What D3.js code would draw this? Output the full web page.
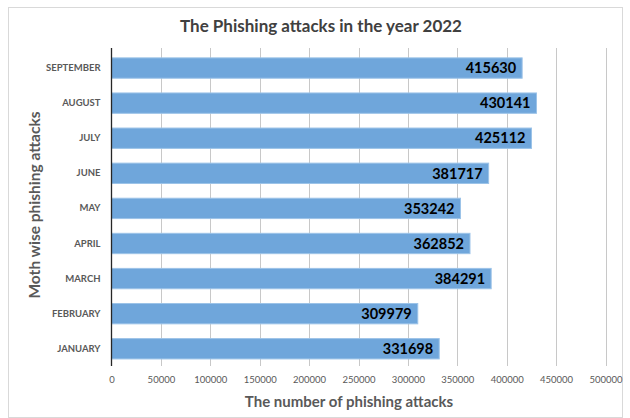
<!DOCTYPE html>
<html>
<head>
<meta charset="utf-8">
<script src="https://cdn.jsdelivr.net/npm/d3@7"></script>
<style>
  body { margin: 0; background: #fff; }
  text { font-family: Lato, "Open Sans", sans-serif; }
</style>
</head>
<body>
<div id="chart"></div>
<script>
// data
const months = ["JANUARY", "FEBRUARY", "MARCH", "APRIL", "MAY", "JUNE", "JULY", "AUGUST", "SEPTEMBER"];
const attacks = [331698, 309979, 384291, 362852, 353242, 381717, 425112, 430141, 415630];
const xTicks = [0, 50000, 100000, 150000, 200000, 250000, 300000, 350000, 400000, 450000, 500000];

const width = 630, height = 418;
const plot = { left: 111.5, right: 605.5, top: 48, bottom: 366 };

const svg = d3.select("#chart").append("svg")
  .attr("width", width)
  .attr("height", height);

// chart border
svg.append("rect")
  .attr("x", 8.5).attr("y", 7.5)
  .attr("width", 614).attr("height", 410)
  .attr("fill", "#fff")
  .attr("stroke", "#d9d9d9");

const x = d3.scaleLinear()
  .domain([0, 500000])
  .range([plot.left, plot.right]);

const y = d3.scaleBand()
  .domain(months.slice().reverse())
  .range([50.5, 366.3])
  .paddingInner(0.42)
  .paddingOuter(0.21);

// gridlines
svg.append("g")
  .attr("class", "grid")
  .selectAll("line")
  .data(xTicks.slice(1))
  .join("line")
  .attr("x1", (d) => Math.round(x(d)) + 0.5)
  .attr("x2", (d) => Math.round(x(d)) + 0.5)
  .attr("y1", plot.top)
  .attr("y2", plot.bottom)
  .attr("stroke", "#c8c8c8")
  .attr("stroke-width", 1);

// bars
svg.append("g")
  .selectAll("rect")
  .data(months)
  .join("rect")
  .attr("x", x(0))
  .attr("y", (d) => y(d))
  .attr("width", (d, i) => x(attacks[i]) - x(0))
  .attr("height", y.bandwidth())
  .attr("fill", "#6fa6db")
  .attr("stroke", "#9cc3e8")
  .attr("stroke-width", 1);

// value labels
svg.append("g")
  .selectAll("text")
  .data(months)
  .join("text")
  .attr("x", (d, i) => x(attacks[i]) - 6)
  .attr("y", (d) => y(d) + y.bandwidth() / 2)
  .attr("dy", "0.36em")
  .attr("text-anchor", "end")
  .attr("font-size", 14.5)
  .attr("font-weight", "bold")
  .attr("fill", "#000")
  .text((d, i) => attacks[i]);

// x axis (labels only)
const xAxis = svg.append("g")
  .attr("transform", `translate(0,${plot.bottom})`)
  .call(d3.axisBottom(x).tickValues(xTicks).tickSize(0).tickPadding(10).tickFormat(d3.format("d")));
xAxis.select(".domain").remove();
xAxis.selectAll("text")
  .attr("font-size", 9.5)
  .attr("fill", "#595959")
  .style("font-family", "Lato, sans-serif");

// y axis
const yAxis = svg.append("g")
  .attr("transform", `translate(${plot.left},0)`)
  .call(d3.axisLeft(y).tickSize(0).tickPadding(11));
yAxis.select(".domain").remove();
yAxis.selectAll("text")
  .attr("font-size", 9.5)
  .attr("font-weight", "bold")
  .attr("fill", "#595959")
  .style("font-family", "Lato, sans-serif");

svg.append("line")
  .attr("x1", plot.left).attr("x2", plot.left)
  .attr("y1", plot.top).attr("y2", plot.bottom)
  .attr("stroke", "#262626")
  .attr("stroke-width", 1.3);

// title
svg.append("text")
  .attr("x", 321)
  .attr("y", 32)
  .attr("text-anchor", "middle")
  .attr("font-size", 17)
  .attr("font-weight", "bold")
  .attr("fill", "#404040")
  .text("The Phishing attacks in the year 2022");

// axis titles
svg.append("text")
  .attr("x", 349)
  .attr("y", 407)
  .attr("text-anchor", "middle")
  .attr("font-size", 15)
  .attr("font-weight", "bold")
  .attr("fill", "#595959")
  .text("The number of phishing attacks");

svg.append("text")
  .attr("transform", "translate(40,205) rotate(-90)")
  .attr("text-anchor", "middle")
  .attr("font-size", 15.5)
  .attr("font-weight", "bold")
  .attr("fill", "#595959")
  .text("Moth wise phishing attacks");
</script>
</body>
</html>
